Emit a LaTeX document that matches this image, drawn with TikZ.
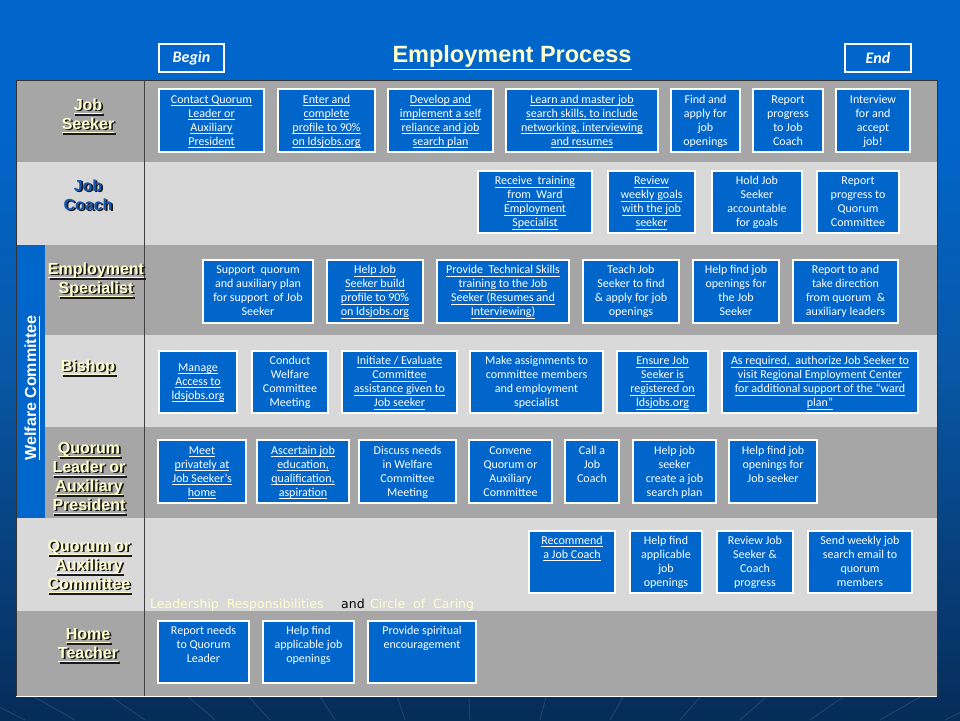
\documentclass[tikz,border=0pt]{standalone}
\usepackage{fontspec}
\setmainfont{Carlito}
\newfontfamily\arialf{Liberation Sans}
\newfontfamily\dejavu{DejaVu Sans}
\definecolor{bgtop}{HTML}{0066CC}
\definecolor{bgmid}{HTML}{0858A8}
\definecolor{bgbot}{HTML}{062C58}
\definecolor{boxblue}{HTML}{0066CC}
\definecolor{cdark}{HTML}{A6A6A6}
\definecolor{clight}{HTML}{D9D9D9}
\definecolor{pale}{HTML}{FFFFCC}
\definecolor{coachblue}{HTML}{1457B4}
\newdimen\myuldp \myuldp=2pt
\newdimen\myulth \myulth=0.8pt
\newsavebox{\ulbox}
\newcommand{\ulx}[1]{\leavevmode\sbox{\ulbox}{#1}\rlap{\lower\myuldp\hbox{\vrule width\wd\ulbox height 0pt depth \myulth}}\usebox{\ulbox}}
\newcommand{\ulset}[2]{\myuldp=#1\relax\myulth=#2\relax}
\tikzset{
  bxs/.style={draw=white, line width=1.1pt, fill=boxblue, text=white, inner sep=0pt, outer sep=0pt,
    font=\fontsize{12}{14}\selectfont},
  labs/.style={inner sep=0pt, font=\arialf\bfseries\fontsize{16}{19}\selectfont},
  hdrbox/.style={draw=white, line width=2pt, text=white, inner sep=0pt,
    font=\bfseries\itshape\fontsize{16}{19}\selectfont},
  notes/.style={inner sep=0pt, anchor=base west, font=\dejavu\fontsize{12.5}{15}\selectfont},
  deco/.style={draw=white, opacity=0.12, line width=0.8pt},
}
% box: [first baseline offset]{name}{x1}{y1}{x2}{y2}{text}
\newcommand\bx[7][14]{\node[bxs,anchor=north west] (#2) at (#3,#4)
  {\parbox[c][\dimexpr#6pt-#4pt\relax][t]{\dimexpr#5pt-#3pt\relax}{\centering\rule{0pt}{#1pt}#7\par}};}
% label: {name}{x}{y}{colour}{text}
\newcommand\lab[5]{%
  \node[labs,text=black!90,anchor=base] (#1s) at (#2+1.7,#3+1.7) {\parbox[t]{130pt}{\centering\ulset{2.5pt}{1.4pt}#5}};
  \node[labs,text=#4,anchor=base] (#1) at (#2,#3) {\parbox[t]{130pt}{\centering\ulset{2.5pt}{1.4pt}#5}};}
\begin{document}
\begin{tikzpicture}[x=1pt,y=-1pt]
\useasboundingbox (0,0) rectangle (960,720);
\shade[top color=bgtop, bottom color=bgbot, middle color=bgmid] (0,0) rectangle (960,720);
\fill[bgtop] (0,0) rectangle (960,120);
\shade[top color=bgtop, bottom color=bgmid] (0,120) rectangle (960,360);
\shade[top color=bgmid, bottom color=bgbot] (0,360) rectangle (960,720);
\foreach \xx in {25,75,145,215,270,335,405,470,540,610,680,740,810,880,945}
  \draw[deco] (\xx,720) -- ({\xx+(\xx-480)*0.1},697);

% table rows
\fill[cdark]  (16,80)  rectangle (937,162);
\fill[clight] (16,162) rectangle (937,245);
\fill[cdark]  (45,245) rectangle (937,335);
\fill[clight] (45,335) rectangle (937,427);
\fill[cdark]  (45,427) rectangle (937,518);
\fill[clight] (16,518) rectangle (937,611);
\fill[cdark]  (16,611) rectangle (937,696);
\fill[boxblue] (16,245) rectangle (45,518);
\draw[black!75, line width=1pt] (144,80) -- (144,696);
\draw[black!80, line width=1pt] (16,696) -- (16,80) -- (937,80) -- (937,696);
\draw[white, line width=1pt] (16,696) -- (937,696);

% header
\node[hdrbox, anchor=north west, minimum width=65pt, minimum height=28pt] (begin) at (158,43) {Begin};
\node[hdrbox, anchor=north west, minimum width=66pt, minimum height=28pt] (end) at (844,43) {End};
\node[inner sep=0pt, anchor=base, text=pale, font=\arialf\bfseries\fontsize{23.5}{28}\selectfont]
  (title) at (512,62) {\ulset{6.5pt}{1.6pt}\ulx{Employment Process}};

% Welfare committee
\node[inner sep=0pt, rotate=90, anchor=base, text=white, font=\arialf\bfseries\fontsize{16}{19}\selectfont]
  (welfare) at (36,388) {\ulset{2.5pt}{1.4pt}\ulx{Welfare Committee}};

% row labels
\lab{ljs}{88}{110}{pale}{\ulx{Job}\\\ulx{Seeker}}
\lab{ljc}{88}{191}{coachblue}{Job\\Coach}
\lab{les}{96}{274}{pale}{\ulx{Employment}\\\ulx{Specialist}}
\lab{lbi}{88}{371}{pale}{\ulx{Bishop}}
\lab{lql}{89}{453}{pale}{\ulx{Quorum}\\\ulx{Leader or}\\\ulx{Auxiliary}\\\ulx{President}}
\lab{lqc}{89}{551}{pale}{\ulx{Quorum or}\\\ulx{Auxiliary}\\\ulx{Committee}}
\lab{lht}{88}{639}{pale}{\ulx{Home}\\\ulx{Teacher}}

% Job Seeker row
\bx{a1}{159}{89}{264}{152}{\ulx{Contact Quorum}\\\ulx{Leader or}\\\ulx{Auxiliary}\\\ulx{President}}
\bx{a2}{278}{89}{375}{152}{\ulx{Enter and}\\\ulx{complete}\\\ulx{profile to 90\%}\\\ulx{on ldsjobs.org}}
\bx{a3}{388}{89}{493}{152}{\ulx{Develop and}\\\ulx{implement a self}\\\ulx{reliance and job}\\\ulx{search plan}}
\bx{a4}{506}{89}{658}{152}{\ulx{Learn and master job}\\\ulx{search skills, to include}\\\ulx{networking, interviewing}\\\ulx{and resumes}}
\bx{a5}{671}{89}{740}{152}{Find and\\apply for\\job\\openings}
\bx{a6}{753}{89}{823}{152}{Report\\progress\\to Job\\Coach}
\bx{a7}{836}{89}{910}{152}{Interview\\for and\\accept\\job!}

% Job Coach row
\bx[13.5]{b1}{478}{171}{592}{233}{\ulx{Receive\ \ training}\\\ulx{from\ \ Ward}\\\ulx{Employment}\\\ulx{Specialist}}
\bx[13.5]{b2}{608}{171}{695}{233}{\ulx{Review}\\\ulx{weekly goals}\\\ulx{with the job}\\\ulx{seeker}}
\bx[13.5]{b3}{712}{171}{802}{233}{Hold Job\\Seeker\\accountable\\for goals}
\bx[13.5]{b4}{817}{171}{899}{233}{Report\\progress to\\Quorum\\Committee}

% Employment Specialist row
\bx[13.5]{c1}{203}{260}{313}{323}{Support\ \ quorum\\and auxiliary plan\\for support\ \ of Job\\Seeker}
\bx[13.5]{c2}{327}{260}{423}{323}{\ulx{Help Job}\\\ulx{Seeker build}\\\ulx{profile to 90\%}\\\ulx{on ldsjobs.org}}
\bx[13.5]{c3}{437}{260}{569}{323}{\ulx{Provide\ \ Technical Skills}\\\ulx{training to the Job}\\\ulx{Seeker (Resumes and}\\\ulx{Interviewing)}}
\bx[13.5]{c4}{583}{260}{679}{323}{Teach Job\\Seeker to find\\\& apply for job\\openings}
\bx[13.5]{c5}{693}{260}{779}{323}{Help find job\\openings for\\the Job\\Seeker}
\bx[13.5]{c6}{793}{260}{898}{323}{Report to and\\take direction\\from quorum\ \ \&\\auxiliary leaders}

% Bishop row
\bx[20]{d1}{159}{351}{237}{413}{\ulx{Manage}\\\ulx{Access to}\\\ulx{ldsjobs.org}}
\bx[13.5]{d2}{252}{351}{328}{413}{Conduct\\Welfare\\Committee\\Meeting}
\bx[13.5]{d3}{342}{351}{457}{413}{\ulx{Initiate / Evaluate}\\\ulx{Committee}\\\ulx{assistance given to}\\\ulx{Job seeker}}
\bx[13.5]{d4}{470}{351}{603}{413}{Make assignments to\\committee members\\and employment\\specialist}
\bx[13.5]{d5}{617}{351}{708}{413}{\ulx{Ensure Job}\\\ulx{Seeker is}\\\ulx{registered on}\\\ulx{ldsjobs.org}}
\bx[13.5]{d6}{722}{351}{918}{413}{\ulx{As required,\ \ authorize Job Seeker to}\\\ulx{visit Regional Employment Center}\\\ulx{for additional support of the “ward}\\\ulx{plan”}}

% Quorum Leader row
\bx{e1}{158}{440}{246}{503}{\ulx{Meet}\\\ulx{privately at}\\\ulx{Job Seeker’s}\\\ulx{home}}
\bx{e2}{257}{440}{349}{503}{\ulx{Ascertain job}\\\ulx{education,}\\\ulx{qualification,}\\\ulx{aspiration}}
\bx{e3}{359}{440}{456}{503}{Discuss needs\\in Welfare\\Committee\\Meeting}
\bx{e4}{469}{440}{552}{503}{Convene\\Quorum or\\Auxiliary\\Committee}
\bx{e5}{565}{440}{619}{503}{Call a\\Job\\Coach}
\bx{e6}{633}{440}{716}{503}{Help job\\seeker\\create a job\\search plan}
\bx{e7}{729}{440}{817}{503}{Help find job\\openings for\\Job seeker}

% Quorum or Auxiliary Committee row
\bx[13]{f1}{529}{531}{615}{593}{\ulx{Recommend}\\\ulx{a Job Coach}}
\bx[13]{f2}{630}{531}{702}{593}{Help find\\applicable\\job\\openings}
\bx[13]{f3}{717}{531}{793}{593}{Review Job\\Seeker \&\\Coach\\progress}
\bx[13]{f4}{808}{531}{912}{593}{Send weekly job\\search email to\\quorum\\members}

% Home Teacher row
\bx[13]{g1}{158}{621}{249}{683}{Report needs\\to Quorum\\Leader}
\bx[13]{g2}{263}{621}{354}{683}{Help find\\applicable job\\openings}
\bx[13]{g3}{368}{621}{476}{683}{Provide spiritual\\encouragement}

% note line
\node[notes, text=pale] (lr) at (150,608) {Leadership\ \ Responsibilities};
\node[notes, text=black] (andw) at (341,608) {and};
\node[notes, text=pale] (coc) at (370,608) {Circle\ \ of\ \ Caring};
\end{tikzpicture}
\end{document}
